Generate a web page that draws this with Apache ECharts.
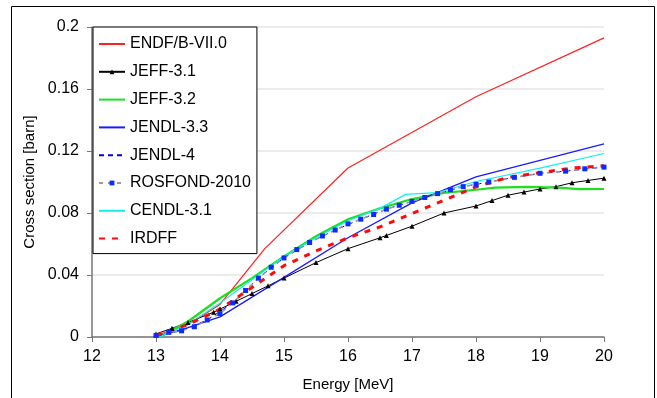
<!DOCTYPE html>
<html>
<head>
<meta charset="utf-8">
<script src="https://cdn.jsdelivr.net/npm/echarts@6/dist/echarts.min.js"></script>
<style>
html,body{margin:0;padding:0;background:#fff;}
#chart{width:657px;height:398px;}
</style>
</head>
<body>
<div id="chart"></div>
<script>
// energies [MeV] and cross sections [barn]
var endfE   = [13, 13.5, 14, 14.7, 16, 18, 20];
var endfV   = [0.001, 0.008, 0.021, 0.057, 0.109, 0.155, 0.193];

var jeff31E = [13, 13.25, 13.5, 13.9, 14, 14.25, 14.5, 14.75, 15, 15.5, 16, 16.5, 16.6, 17, 17.5, 18, 18.25, 18.5, 18.75, 19, 19.25, 19.5, 19.75, 20];
var jeff31V = [0.002, 0.0056, 0.0094, 0.016, 0.018, 0.023, 0.028, 0.033, 0.038, 0.048, 0.057, 0.064, 0.0655, 0.0715, 0.08, 0.0845, 0.088, 0.0915, 0.0935, 0.0955, 0.097, 0.0995, 0.101, 0.1025];

var jeff32E = [13.05, 13.5, 14, 14.5, 15, 15.5, 16, 16.5, 17, 17.5, 18, 18.3, 18.8, 19.3, 19.6, 20];
var jeff32V = [0, 0.01, 0.025, 0.038, 0.052, 0.065, 0.076, 0.083, 0.089, 0.093, 0.095, 0.0964, 0.0968, 0.0964, 0.0954, 0.0955];

var jendl33E = [13, 13.5, 14, 15, 16, 17, 18, 20];
var jendl33V = [0, 0.006, 0.013, 0.0385, 0.064, 0.0865, 0.1033, 0.1246];

var jendl4E = [13, 13.4, 13.8, 14.2, 14.6, 15, 15.4, 15.8, 16.2, 16.6, 17, 17.4, 17.8, 18.2, 18.6, 19, 19.4, 20];
var jendl4V = [0.001, 0.004, 0.011, 0.022, 0.038, 0.051, 0.061, 0.069, 0.076, 0.0825, 0.0875, 0.0925, 0.097, 0.1, 0.103, 0.1056, 0.107, 0.1096];

var rosfondE = [13, 13.2, 13.4, 13.6, 13.8, 14, 14.2, 14.4, 14.6, 14.8, 15, 15.2, 15.4, 15.6, 15.8, 16, 16.2, 16.4, 16.6, 16.8, 17, 17.2, 17.4, 17.6, 17.8, 18, 18.2, 18.6, 19, 19.4, 19.7, 20];
var rosfondV = [0.001, 0.003, 0.004, 0.0066, 0.011, 0.015, 0.022, 0.03, 0.038, 0.045, 0.051, 0.0564, 0.061, 0.0652, 0.069, 0.073, 0.076, 0.079, 0.0825, 0.085, 0.0875, 0.09, 0.0925, 0.095, 0.097, 0.0985, 0.1, 0.103, 0.1056, 0.107, 0.1085, 0.1096];

var cendlE = [13.05, 13.5, 14, 14.5, 15, 15.5, 16, 16.5, 16.9, 17.1, 17.4, 18, 19, 20];
var cendlV = [0, 0.008, 0.022, 0.037, 0.052, 0.064, 0.075, 0.083, 0.092, 0.0925, 0.0932, 0.1003, 0.109, 0.1184];

var irdffE = [13, 13.5, 14, 14.5, 15, 15.5, 16, 16.5, 17, 17.5, 18, 18.5, 19, 19.5, 20];
var irdffV = [0.001, 0.008, 0.018, 0.032, 0.046, 0.0555, 0.064, 0.071, 0.0797, 0.0882, 0.0968, 0.103, 0.106, 0.109, 0.1105];

var xTicks = [12, 13, 14, 15, 16, 17, 18, 19, 20];
var yTicks = [0, 0.04, 0.08, 0.12, 0.16, 0.2];

var names = ['ENDF/B-VII.0','JEFF-3.1','JEFF-3.2','JENDL-3.3','JENDL-4','ROSFOND-2010','CENDL-3.1','IRDFF'];
var withMarker = ['JEFF-3.1','ROSFOND-2010'];

function pairs(e, v){
	var out = [];
	for(var i=0;i<e.length;i++){
		out.push([e[i], v[i]]);
	}
	return out;
}

// legend entries: hide the symbol for the plain lines
var legendData = [];
for(var i=0;i<names.length;i++){
	if(withMarker.indexOf(names[i])>=0){
		legendData.push({name:names[i]});
	}else{
		legendData.push({name:names[i], itemStyle:{opacity:0}});
	}
}

var font = "Liberation Sans, Arial, sans-serif";
var chart = echarts.init(document.getElementById("chart"));

var option = {
	animation:false,
	backgroundColor:'#fff',
	textStyle:{fontFamily:font},
	grid:{
		left:92,
		right:53,
		top:27,
		bottom:61
	},
	graphic:[{
		type:'rect',
		shape:{x:11.5, y:6.5, width:643, height:400},
		style:{fill:'none', stroke:'#000', lineWidth:1},
		silent:true
	}],
	legend:{
		orient:'vertical',
		left:93,
		top:27,
		backgroundColor:'#fff',
		borderColor:'#000',
		borderWidth:1,
		borderRadius:0,
		padding:[9,6,7,5],
		itemWidth:26,
		itemHeight:6,
		itemGap:11.8,
		textStyle:{fontFamily:font, fontSize:16, color:'#000'},
		data:legendData
	},
	xAxis:{
		type:'value',
		min:xTicks[0],
		max:xTicks[xTicks.length-1],
		interval:1,
		name:'Energy [MeV]',
		nameLocation:'middle',
		nameGap:40,
		nameTextStyle:{fontFamily:font, fontSize:15, color:'#000'},
		axisLine:{lineStyle:{color:'#777', width:1.5}},
		axisTick:{show:true, inside:false, length:5, lineStyle:{color:'#777'}},
		axisLabel:{fontFamily:font, fontSize:16, color:'#000', margin:12},
		splitLine:{show:false}
	},
	yAxis:{
		type:'value',
		min:yTicks[0],
		max:yTicks[yTicks.length-1],
		interval:0.04,
		name:'Cross section [barn]',
		nameLocation:'middle',
		nameGap:55,
		nameTextStyle:{fontFamily:font, fontSize:15, color:'#000'},
		axisLine:{show:true, lineStyle:{color:'#777', width:1.5}},
		axisTick:{show:true, inside:false, length:5, lineStyle:{color:'#777'}},
		axisLabel:{fontFamily:font, fontSize:16, color:'#000', margin:13},
		splitLine:{show:true, lineStyle:{color:'#e6e6e6', width:1.5}}
	},
	series:[
		{
			name:'ENDF/B-VII.0', type:'line', data:pairs(endfE, endfV),
			symbol:'none', lineStyle:{color:'#ff2020', width:1.2}, itemStyle:{color:'#ff2020'}
		},
		{
			name:'JEFF-3.1', type:'line', data:pairs(jeff31E, jeff31V),
			symbol:'triangle', symbolSize:5, showSymbol:true,
			lineStyle:{color:'#000', width:1}, itemStyle:{color:'#000'}
		},
		{
			name:'JEFF-3.2', type:'line', data:pairs(jeff32E, jeff32V),
			symbol:'none', lineStyle:{color:'#1ee01e', width:2.2}, itemStyle:{color:'#1ee01e'}
		},
		{
			name:'JENDL-3.3', type:'line', data:pairs(jendl33E, jendl33V),
			symbol:'none', lineStyle:{color:'#1a1aff', width:1.3}, itemStyle:{color:'#1a1aff'}
		},
		{
			name:'JENDL-4', type:'line', data:pairs(jendl4E, jendl4V),
			symbol:'none', lineStyle:{color:'#0000ee', width:1, type:[5,4]}, itemStyle:{color:'#0000ee'}
		},
		{
			name:'ROSFOND-2010', type:'line', data:pairs(rosfondE, rosfondV),
			symbol:'rect', symbolSize:5, showSymbol:true,
			lineStyle:{color:'#9a9a9a', width:1.5, type:[4,5]}, itemStyle:{color:'#0a2cff'}
		},
		{
			name:'CENDL-3.1', type:'line', data:pairs(cendlE, cendlV),
			symbol:'none', lineStyle:{color:'#10f0f0', width:1.2}, itemStyle:{color:'#10f0f0'}
		},
		{
			name:'IRDFF', type:'line', data:pairs(irdffE, irdffV),
			symbol:'none', lineStyle:{color:'#ff0a0a', width:3, type:[6,7]}, itemStyle:{color:'#ff0a0a'}
		}
	]
};
chart.setOption(option);
</script>
</body>
</html>
